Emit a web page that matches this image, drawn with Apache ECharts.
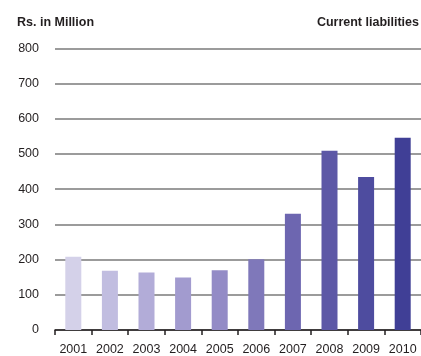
<!DOCTYPE html>
<html>
<head>
<meta charset="utf-8">
<script src="https://cdn.jsdelivr.net/npm/echarts@6/dist/echarts.min.js"></script>
<style>
  html, body { margin: 0; padding: 0; background: #fff; }
  #chart { width: 421px; height: 356px; }
</style>
</head>
<body>
<div id="chart"></div>
<script>
// Current liabilities, Rs. in Million, 2001-2010
const years = ['2001', '2002', '2003', '2004', '2005', '2006', '2007', '2008', '2009', '2010'];
const liabilities = [208, 168, 163, 149, 170, 201, 330, 509, 435, 546];
const barColors = ['#d4d1e9', '#c1bde0', '#b2acd8', '#a29bcf', '#938bc6',
                   '#7f78ba', '#6d66b0', '#5d58a6', '#4e4c9f', '#403f96'];
const yTicks = [0, 100, 200, 300, 400, 500, 600, 700, 800];

const font = '"Liberation Sans Narrow", "Arial Narrow", "Liberation Sans", Arial, sans-serif';

const chart = echarts.init(document.getElementById('chart'), null, { renderer: 'canvas' });
chart.setOption({
  animation: false,
  backgroundColor: '#ffffff',
  textStyle: { fontFamily: font },
  title: [
    { text: 'Rs. in Million', left: 17, top: 16, padding: 0,
      textStyle: { fontFamily: font, fontSize: 12.5, fontWeight: 'bold', color: '#231f20' } },
    { text: 'Current liabilities', right: 2, top: 16, padding: 0,
      textStyle: { fontFamily: font, fontSize: 12.5, fontWeight: 'bold', color: '#231f20' } }
  ],
  grid: { left: 55, right: 0, top: 48.4, bottom: 26, containLabel: false },
  xAxis: {
    type: 'category',
    data: years,
    axisLine: { show: true, lineStyle: { color: '#231f20', width: 1.5 } },
    axisTick: { show: true, alignWithLabel: false, length: 5, lineStyle: { color: '#231f20', width: 1.5 } },
    axisLabel: { interval: 0, fontFamily: font, fontSize: 12.5, color: '#231f20', margin: 13 }
  },
  yAxis: {
    type: 'value',
    min: yTicks[0],
    max: yTicks[yTicks.length - 1],
    interval: 100,
    axisLine: { show: false },
    axisTick: { show: false },
    axisLabel: { fontFamily: font, fontSize: 12.5, color: '#231f20', margin: 16 },
    splitLine: { show: true, lineStyle: { color: '#7a7a7a', width: 1.5 } }
  },
  series: [{
    type: 'bar',
    barWidth: 16,
    data: liabilities.map((v, i) => ({ value: v, itemStyle: { color: barColors[i] } }))
  }]
});
</script>
</body>
</html>
